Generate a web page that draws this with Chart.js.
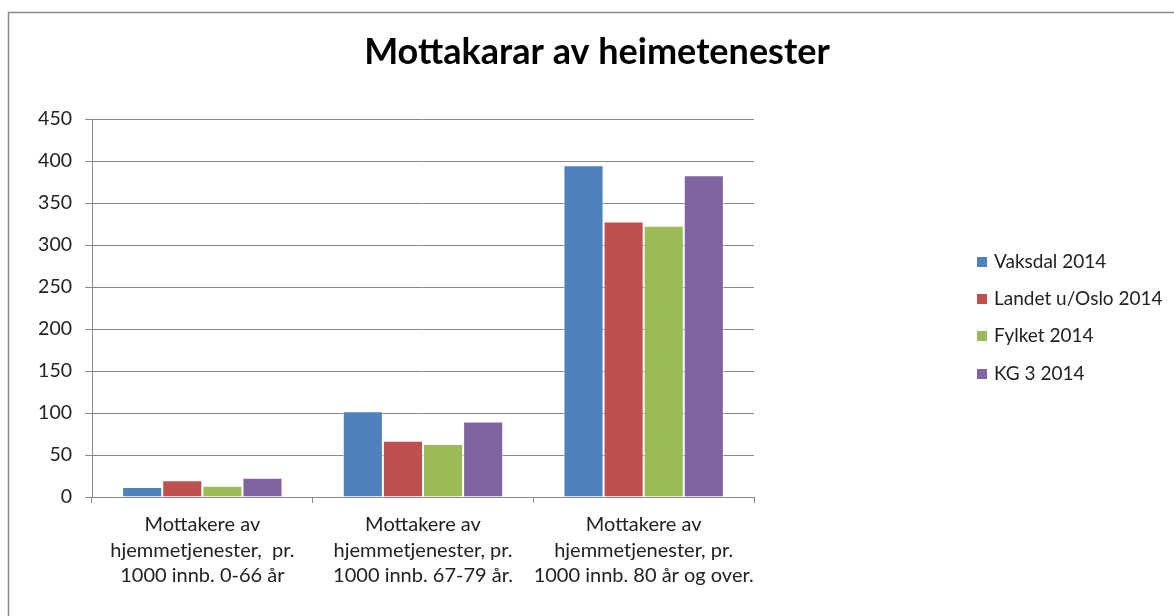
<!DOCTYPE html>
<html>
<head>
<meta charset="utf-8">
<script src="https://cdn.jsdelivr.net/npm/chart.js@4/dist/chart.umd.min.js"></script>
<style>
  html, body { margin: 0; padding: 0; background: #fff; }
  #wrap { position: relative; width: 1174px; height: 616px; overflow: hidden; }
</style>
</head>
<body>
<div id="wrap"><canvas id="c" width="1174" height="616"></canvas></div>
<script>
const chartTitle = "Mottakarar av heimetenester";
const categories = [
  ["Mottakere av", "hjemmetjenester,  pr.", "1000 innb. 0-66 år"],
  ["Mottakere av", "hjemmetjenester, pr.", "1000 innb. 67-79 år."],
  ["Mottakere av", "hjemmetjenester, pr.", "1000 innb. 80 år og over."]
];
const seriesNames = ["Vaksdal 2014", "Landet u/Oslo 2014", "Fylket 2014", "KG 3 2014"];
const vaksdal = [12, 102, 395];
const landet = [20, 67, 328];
const fylket = [13.5, 63, 323];
const kg3 = [23, 90, 383];
const yTicks = [0, 50, 100, 150, 200, 250, 300, 350, 400, 450];
const colors = ["#4F81BD", "#C0504D", "#9BBB59", "#8064A2"];

const FONT = "Lato, 'Liberation Sans', sans-serif";

const framePlugin = {
  id: 'frame',
  beforeDraw(chart) {
    const ctx = chart.ctx;
    ctx.save();
    ctx.fillStyle = '#fff';
    ctx.fillRect(0, 0, chart.width, chart.height);
    ctx.strokeStyle = '#8a8a8a';
    ctx.lineWidth = 1.5;
    ctx.strokeRect(8.5, 12.5, chart.width + 20, chart.height + 20);
    ctx.restore();
  },
  afterDraw(chart) {
    const ctx = chart.ctx;
    ctx.save();
    // title
    ctx.fillStyle = '#000';
    ctx.font = "bold 36px " + FONT;
    ctx.textAlign = 'center';
    ctx.textBaseline = 'middle';
    ctx.fillText(chartTitle, 597, 52);
    // legend
    ctx.font = "19px " + FONT;
    ctx.textAlign = 'left';
    const rows = [262, 299, 336, 374];
    chart.data.datasets.forEach((ds, i) => {
      ctx.fillStyle = ds.backgroundColor;
      ctx.fillRect(977, rows[i] - 5, 10, 10);
      ctx.fillStyle = '#222';
      ctx.fillText(ds.label, 994, rows[i]);
    });
    ctx.restore();
  }
};

new Chart(document.getElementById('c'), {
  type: 'bar',
  data: {
    labels: categories,
    datasets: [
      { label: seriesNames[0], data: vaksdal, backgroundColor: colors[0] },
      { label: seriesNames[1], data: landet, backgroundColor: colors[1] },
      { label: seriesNames[2], data: fylket, backgroundColor: colors[2] },
      { label: seriesNames[3], data: kg3, backgroundColor: colors[3] }
    ].map(d => Object.assign(d, { borderColor: 'rgba(255,255,255,0.6)', borderWidth: 1, categoryPercentage: 0.727, barPercentage: 1.0 }))
  },
  options: {
    responsive: false,
    animation: false,
    layout: { padding: { left: 20, right: 420, top: 119, bottom: 0 } },
    plugins: { legend: { display: false }, title: { display: false }, tooltip: { enabled: false } },
    scales: {
      x: {
        grid: { display: true, offset: true, drawOnChartArea: false, drawTicks: true, tickLength: 6, color: '#8a8a8a', lineWidth: 1 },
        border: { display: true, color: '#8a8a8a', width: 1 },
        ticks: { color: '#222', font: { family: FONT, size: 20, lineHeight: 1.27 }, padding: 9, maxRotation: 0, autoSkip: false },
        afterFit(scale) { scale.height = 119; }
      },
      y: {
        min: 0, max: 450,
        afterBuildTicks(scale) { scale.ticks = yTicks.map(v => ({ value: v })); },
        grid: { color: '#8a8a8a', lineWidth: 1, tickLength: 7, drawTicks: true },
        border: { display: true, color: '#8a8a8a', width: 1 },
        ticks: { color: '#222', font: { family: FONT, size: 19.5 }, padding: 13 },
        afterFit(scale) { scale.width = 72; }
      }
    }
  },
  plugins: [framePlugin]
});
</script>
</body>
</html>
